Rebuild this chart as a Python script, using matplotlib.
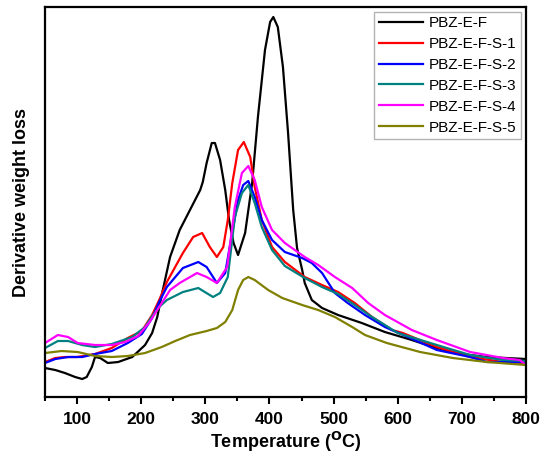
import matplotlib.pyplot as plt

plt.rcParams['font.family'] = ['Liberation Sans', 'DejaVu Sans']

# derivative weight loss (a.u.)
t_f = [50, 66, 81, 97, 108, 115, 123, 128, 136, 148, 164, 186, 206, 217, 225, 233, 245, 260,
       276, 292, 296, 302, 310, 315, 323, 331, 337, 344, 351, 362, 373, 382, 393, 401, 406, 413,
       421, 429, 437, 443, 451, 455, 466, 482, 507, 544, 580, 622, 660, 700, 739, 800]
d_f = [0.29, 0.27, 0.24, 0.20, 0.18, 0.20, 0.30, 0.40, 0.39, 0.34, 0.35, 0.40, 0.52, 0.64, 0.80,
       1.05, 1.40, 1.67, 1.87, 2.07, 2.15, 2.34, 2.54, 2.54, 2.37, 2.07, 1.77, 1.54, 1.42, 1.64,
       2.14, 2.80, 3.47, 3.75, 3.80, 3.70, 3.30, 2.64, 1.87, 1.49, 1.27, 1.14, 0.97, 0.89, 0.82,
       0.74, 0.65, 0.57, 0.49, 0.43, 0.40, 0.38]

t_s1 = [50, 66, 81, 100, 128, 154, 179, 201, 217, 228, 240, 265, 281, 295, 307, 318, 328, 335,
        342, 351, 360, 370, 377, 388, 404, 424, 455, 482, 507, 533, 560, 591, 608, 661, 713, 764,
        800]
d_s1 = [0.35, 0.39, 0.40, 0.40, 0.43, 0.49, 0.59, 0.66, 0.82, 0.97, 1.15, 1.44, 1.60, 1.64, 1.50,
        1.40, 1.50, 1.77, 2.14, 2.47, 2.55, 2.40, 2.10, 1.77, 1.50, 1.35, 1.20, 1.12, 1.05, 0.94,
        0.80, 0.67, 0.64, 0.50, 0.40, 0.35, 0.34]

t_s2 = [50, 66, 86, 108, 128, 154, 179, 201, 217, 228, 240, 265, 289, 302, 318, 331, 338, 351,
        359, 367, 377, 388, 404, 424, 451, 466, 482, 502, 522, 549, 580, 616, 661, 713, 739, 800]
d_s2 = [0.34, 0.38, 0.40, 0.40, 0.43, 0.46, 0.54, 0.63, 0.79, 0.95, 1.10, 1.29, 1.35, 1.30, 1.14,
        1.24, 1.50, 1.97, 2.12, 2.16, 2.00, 1.77, 1.57, 1.45, 1.39, 1.34, 1.24, 1.04, 0.94, 0.82,
        0.70, 0.60, 0.47, 0.40, 0.35, 0.35]

t_s3 = [50, 70, 86, 108, 128, 154, 186, 206, 216, 228, 240, 265, 289, 312, 323, 335, 346, 357,
        367, 377, 388, 404, 424, 455, 482, 507, 533, 560, 600, 661, 713, 764, 800]
d_s3 = [0.49, 0.56, 0.56, 0.52, 0.50, 0.53, 0.60, 0.70, 0.80, 0.90, 0.97, 1.05, 1.09, 1.00, 1.04,
        1.20, 1.80, 2.04, 2.12, 1.94, 1.70, 1.47, 1.31, 1.19, 1.10, 1.03, 0.92, 0.80, 0.64, 0.52,
        0.42, 0.37, 0.36]

t_s4 = [50, 70, 86, 101, 128, 154, 175, 195, 213, 228, 245, 260, 287, 302, 318, 334, 346, 357,
        367, 377, 388, 404, 424, 455, 476, 502, 529, 554, 580, 622, 661, 713, 764, 790, 800]
d_s4 = [0.54, 0.62, 0.60, 0.54, 0.52, 0.52, 0.55, 0.61, 0.75, 0.90, 1.07, 1.14, 1.24, 1.20, 1.14,
        1.30, 1.90, 2.24, 2.31, 2.17, 1.90, 1.67, 1.54, 1.40, 1.32, 1.20, 1.09, 0.94, 0.82, 0.67,
        0.57, 0.45, 0.39, 0.37, 0.32]

t_s5 = [50, 76, 101, 128, 154, 179, 206, 232, 253, 276, 302, 318, 331, 342, 351, 359, 367, 377,
        398, 420, 451, 476, 502, 529, 549, 583, 635, 686, 739, 800]
d_s5 = [0.44, 0.46, 0.45, 0.41, 0.40, 0.41, 0.44, 0.50, 0.56, 0.62, 0.66, 0.69, 0.75, 0.87, 1.07,
        1.17, 1.20, 1.17, 1.07, 0.99, 0.92, 0.87, 0.80, 0.70, 0.62, 0.54, 0.45, 0.39, 0.35, 0.32]

labels = ['PBZ-E-F', 'PBZ-E-F-S-1', 'PBZ-E-F-S-2', 'PBZ-E-F-S-3', 'PBZ-E-F-S-4', 'PBZ-E-F-S-5']
colors = ['black', 'red', 'blue', '#008080', 'magenta', '#808000']
series = [(t_f, d_f), (t_s1, d_s1), (t_s2, d_s2), (t_s3, d_s3), (t_s4, d_s4), (t_s5, d_s5)]

fig = plt.figure(figsize=(5.47, 4.61), dpi=100)
ax = fig.add_axes([0.0823, 0.1388, 0.8793, 0.846])

for (t, d), lab, c in zip(series, labels, colors):
    ax.plot(t, d, color=c, lw=1.6, label=lab, solid_joinstyle='round')

ax.set_xlim(50, 800)
ax.set_ylim(0, 3.9)
ax.set_xticks(range(100, 801, 100))
ax.set_xticks(range(50, 801, 100), minor=True)
ax.set_yticks([])
ax.tick_params(axis='x', which='major', length=5, width=1.5, labelsize=12.5, pad=6)
ax.tick_params(axis='x', which='minor', length=3, width=1.5)
for lbl in ax.get_xticklabels():
    lbl.set_fontweight('bold')
for s in ax.spines.values():
    s.set_linewidth(1.6)

ax.set_xlabel('Temperature ($^{\\mathbf{O}}$C)', fontsize=13, fontweight='bold', labelpad=2)
ax.set_ylabel('Derivative weight loss', fontsize=13, fontweight='bold', labelpad=11)

leg = ax.legend(loc='upper right', fontsize=11, frameon=True, fancybox=False,
                handlelength=2.9, borderaxespad=0.3, labelspacing=0.45,
                borderpad=0.3, handletextpad=0.4)
leg.get_frame().set_edgecolor('#a0a0a0')
leg.get_frame().set_linewidth(1.0)

fig.savefig('out.png', dpi=100)
